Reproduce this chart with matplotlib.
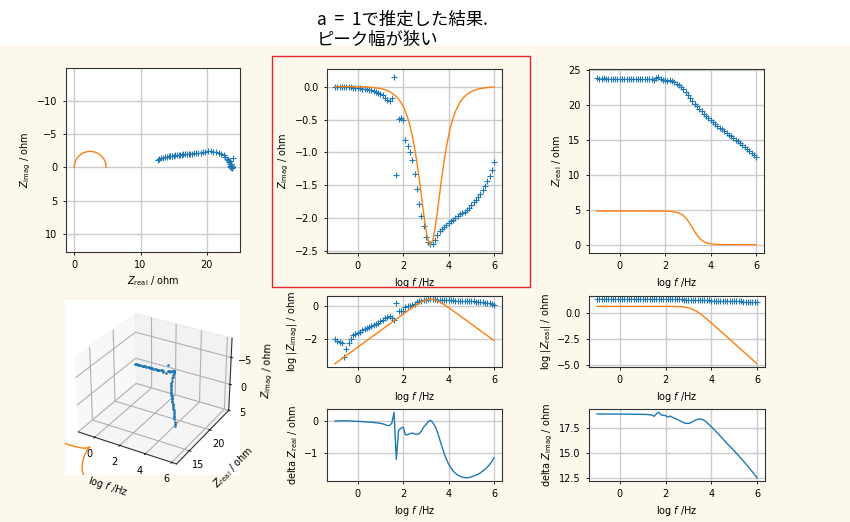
import matplotlib

matplotlib.use("Agg")
import matplotlib.pyplot as plt
from matplotlib.patches import Rectangle
import numpy as np

# 周波数 (log f / Hz)
LOG_F = [
    -1.0, -0.9, -0.8, -0.7, -0.6, -0.5, -0.4, -0.3, -0.2, -0.1,
    0.0, 0.1, 0.2, 0.3, 0.4, 0.5, 0.6, 0.7, 0.8, 0.9,
    1.0, 1.1, 1.2, 1.3, 1.4, 1.5, 1.6, 1.7, 1.8, 1.9,
    2.0, 2.1, 2.2, 2.3, 2.4, 2.5, 2.6, 2.7, 2.8, 2.9,
    3.0, 3.1, 3.2, 3.3, 3.4, 3.5, 3.6, 3.7, 3.8, 3.9,
    4.0, 4.1, 4.2, 4.3, 4.4, 4.5, 4.6, 4.7, 4.8, 4.9,
    5.0, 5.1, 5.2, 5.3, 5.4, 5.5, 5.6, 5.7, 5.8, 5.9,
    6.0,
]

# 測定データ
DATA_ZREAL = [
    23.74, 23.73, 23.73, 23.74, 23.73, 23.72, 23.73, 23.73, 23.72, 23.73,
    23.72, 23.72, 23.71, 23.72, 23.71, 23.71, 23.70, 23.71, 23.70, 23.70,
    23.69, 23.69, 23.68, 23.66, 23.62, 23.50, 23.75, 23.90, 23.64, 23.59,
    23.55, 23.40, 23.48, 23.33, 23.18, 23.02, 22.80, 22.52, 22.20, 21.83,
    21.42, 21.00, 20.57, 20.16, 19.77, 19.39, 19.05, 18.72, 18.38, 18.07,
    17.78, 17.51, 17.25, 16.99, 16.73, 16.47, 16.22, 15.97, 15.73, 15.49,
    15.26, 15.00, 14.76, 14.50, 14.24, 13.97, 13.70, 13.42, 13.14, 12.85,
    12.56,
]
DATA_ZIMAG = [
    -0.0091, -0.0074, -0.0065, -0.0056, -0.0008, -0.0025, -0.0051, -0.0100, -0.0155, -0.0190,
    -0.0220, -0.0250, -0.0320, -0.0370, -0.0440, -0.0500, -0.0580, -0.0680, -0.0790, -0.0930,
    -0.110, -0.132, -0.166, -0.209, -0.220, -0.175, 0.140, -1.340, -0.490, -0.470,
    -0.500, -0.810, -0.900, -0.995, -1.120, -1.320, -1.550, -1.780, -1.970, -2.120,
    -2.290, -2.365, -2.385, -2.390, -2.330, -2.250, -2.200, -2.160, -2.130, -2.100,
    -2.070, -2.045, -2.020, -1.990, -1.970, -1.940, -1.920, -1.900, -1.870, -1.840,
    -1.800, -1.760, -1.720, -1.680, -1.630, -1.570, -1.510, -1.440, -1.360, -1.260,
    -1.140,
]

# a = 1 の推定結果
MODEL_ZREAL = [
    4.8000, 4.8000, 4.8000, 4.8000, 4.8000, 4.8000, 4.8000, 4.8000, 4.8000, 4.8000,
    4.8000, 4.8000, 4.8000, 4.8000, 4.8000, 4.8000, 4.8000, 4.8000, 4.8000, 4.7999,
    4.7998, 4.7997, 4.7995, 4.7992, 4.7988, 4.7981, 4.7970, 4.7952, 4.7924, 4.7880,
    4.7810, 4.7699, 4.7525, 4.7251, 4.6824, 4.6162, 4.5151, 4.3636, 4.1434, 3.8363,
    3.4331, 2.9430, 2.4000, 1.8570, 1.3669, 0.9637, 0.6566, 0.4364, 0.2849, 0.1838,
    0.1176, 0.0749, 0.0475, 0.0301, 0.0190, 0.01203, 0.00760, 0.00480, 0.00303, 0.00191,
    0.00121, 0.000761, 0.000480, 0.000303, 0.000191, 0.000121, 0.0000761, 0.0000480, 0.0000303, 0.0000191,
    0.0000121,
]
MODEL_ZIMAG = [
    -0.000303, -0.000381, -0.000480, -0.000604, -0.000761, -0.000958, -0.00121, -0.00152, -0.00191, -0.00241,
    -0.00303, -0.00381, -0.00480, -0.00604, -0.00761, -0.00958, -0.0121, -0.0152, -0.0191, -0.0241,
    -0.0303, -0.0381, -0.0480, -0.0604, -0.0761, -0.0957, -0.1205, -0.1517, -0.1908, -0.2399,
    -0.3017, -0.3787, -0.4752, -0.5949, -0.7422, -0.9210, -1.1341, -1.3798, -1.6495, -1.9228,
    -2.1662, -2.3377, -2.4000, -2.3377, -2.1662, -1.9228, -1.6495, -1.3798, -1.1341, -0.9210,
    -0.7422, -0.5949, -0.4752, -0.3787, -0.3017, -0.2399, -0.1908, -0.1517, -0.1205, -0.0957,
    -0.0761, -0.0604, -0.0480, -0.0381, -0.0303, -0.0241, -0.0191, -0.0152, -0.0121, -0.00958,
    -0.00761,
]

TITLE_LINES = ["a  =  1で推定した結果.", "ピーク幅が狭い"]
CJK_FONT = ["Noto Sans CJK JP", "DejaVu Sans"]

W, H = 850, 522
BG = "#fdf8ec"

plt.rcParams.update({
    "font.size": 7,
    "axes.linewidth": 0.8,
    "axes.edgecolor": "#333333",
    "xtick.major.size": 2.5,
    "ytick.major.size": 2.5,
    "xtick.major.width": 0.6,
    "ytick.major.width": 0.6,
    "xtick.labelsize": 7,
    "ytick.labelsize": 7,
    "axes.labelsize": 7,
    "axes.labelpad": 3,
})


def box(left, top, right, bottom):
    """ピクセル座標 -> figure 座標"""
    return [left / W, 1 - bottom / H, (right - left) / W, (bottom - top) / H]


def style(ax):
    ax.grid(True, color="#cccccc", linewidth=1.0)
    ax.set_axisbelow(True)


fig = plt.figure(figsize=(W / 100, H / 100), dpi=100, facecolor=BG)

x = np.array(LOG_F)
zr = np.array(DATA_ZREAL)
zi = np.array(DATA_ZIMAG)
mr = np.array(MODEL_ZREAL)
mi = np.array(MODEL_ZIMAG)

mk = dict(linestyle="none", marker="+", color="C0", markersize=5, markeredgewidth=0.8)
ln = dict(color="C1", linewidth=1.0)
xlab = "log $f$ /Hz"

# Nyquist
ax = fig.add_axes(box(66, 68, 240, 252))
ax.plot(zr, zi, **mk)
ax.plot(mr, mi, **ln)
ax.set_xlim(-1.25, 25.0)
ax.set_ylim(12.7, -14.9)
ax.set_xlabel(r"$Z_{\rm real}$ / ohm")
ax.set_ylabel(r"$Z_{\rm imag}$ / ohm")
style(ax)

# Zimag vs log f
ax = fig.add_axes(box(327, 69, 502, 253))
ax.plot(x, zi, **mk)
ax.plot(x, mi, **ln)
ax.set_xlabel(xlab)
ax.set_ylabel(r"$Z_{\rm imag}$ / ohm")
style(ax)

# Zreal vs log f
ax = fig.add_axes(box(589, 69, 764, 253))
ax.plot(x, zr, **mk)
ax.plot(x, mr, **ln)
ax.set_xlabel(xlab)
ax.set_ylabel(r"$Z_{\rm real}$ / ohm")
style(ax)

# log |Zimag|
ax = fig.add_axes(box(327, 296, 502, 367))
ax.plot(x, np.log10(np.abs(zi)), **mk)
ax.plot(x, np.log10(np.abs(mi)), **ln)
ax.set_xlabel(xlab)
ax.set_ylabel(r"log |$Z_{\rm imag}$| / ohm")
style(ax)

# log |Zreal|
ax = fig.add_axes(box(589, 296, 765, 367))
ax.plot(x, np.log10(np.abs(zr)), **mk)
ax.plot(x, np.log10(np.abs(mr)), **ln)
ax.set_xlabel(xlab)
ax.set_ylabel(r"log |$Z_{\rm real}$| / ohm")
style(ax)

# 差分 (ラベルは元の図のまま)
ax = fig.add_axes(box(327, 409, 502, 481))
ax.plot(x, zi - mi, color="C0", linewidth=1.0)
ax.set_xlabel(xlab)
ax.set_ylabel(r"delta $Z_{\rm real}$ / ohm")
style(ax)

ax = fig.add_axes(box(589, 409, 765, 481))
ax.plot(x, zr - mr, color="C0", linewidth=1.0)
ax.set_xlabel(xlab)
ax.set_ylabel(r"delta $Z_{\rm imag}$ / ohm")
style(ax)

# 3D
ax3 = fig.add_axes(box(65, 300, 240, 475), projection="3d")
ax3.plot(x, zr, zi, linestyle="none", marker=".", markersize=1.8, color="C0")
ax3.plot(x, mr, mi, **ln)
ax3.set_xlim(-1.35, 6.35)
ax3.set_ylim(12.0, 25.0)
ax3.set_zlim(5.0, -8.5)
ax3.set_zticks([-5, 0, 5])
ax3.set_xticks([0, 2, 4, 6])
ax3.set_yticks([15, 20])
ax3.set_xlabel(xlab, labelpad=-1)
ax3.set_ylabel(r"$Z_{\rm real}$ / ohm", labelpad=-1)
ax3.set_zlabel(r"$Z_{\rm imag}$ / ohm", labelpad=-4)
ax3.tick_params(pad=-2)

# スライドの装飾
fig.add_artist(Rectangle((0, 1 - 45 / H), 1, 45 / H, transform=fig.transFigure,
                         facecolor="white", edgecolor="none", zorder=-5))
fig.add_artist(Rectangle((272 / W, 1 - 287 / H), (530 - 272) / W, (287 - 56) / H,
                         transform=fig.transFigure, fill=False,
                         edgecolor="#e8242a", linewidth=1.0))
fig.text(317 / W, 1 - 20 / H, TITLE_LINES[0], family=CJK_FONT, fontsize=12.5,
         va="center", ha="left")
fig.text(317 / W, 1 - 40 / H, TITLE_LINES[1], family=CJK_FONT, fontsize=12.5,
         va="center", ha="left")

fig.savefig("out.png", dpi=100, facecolor=BG)
